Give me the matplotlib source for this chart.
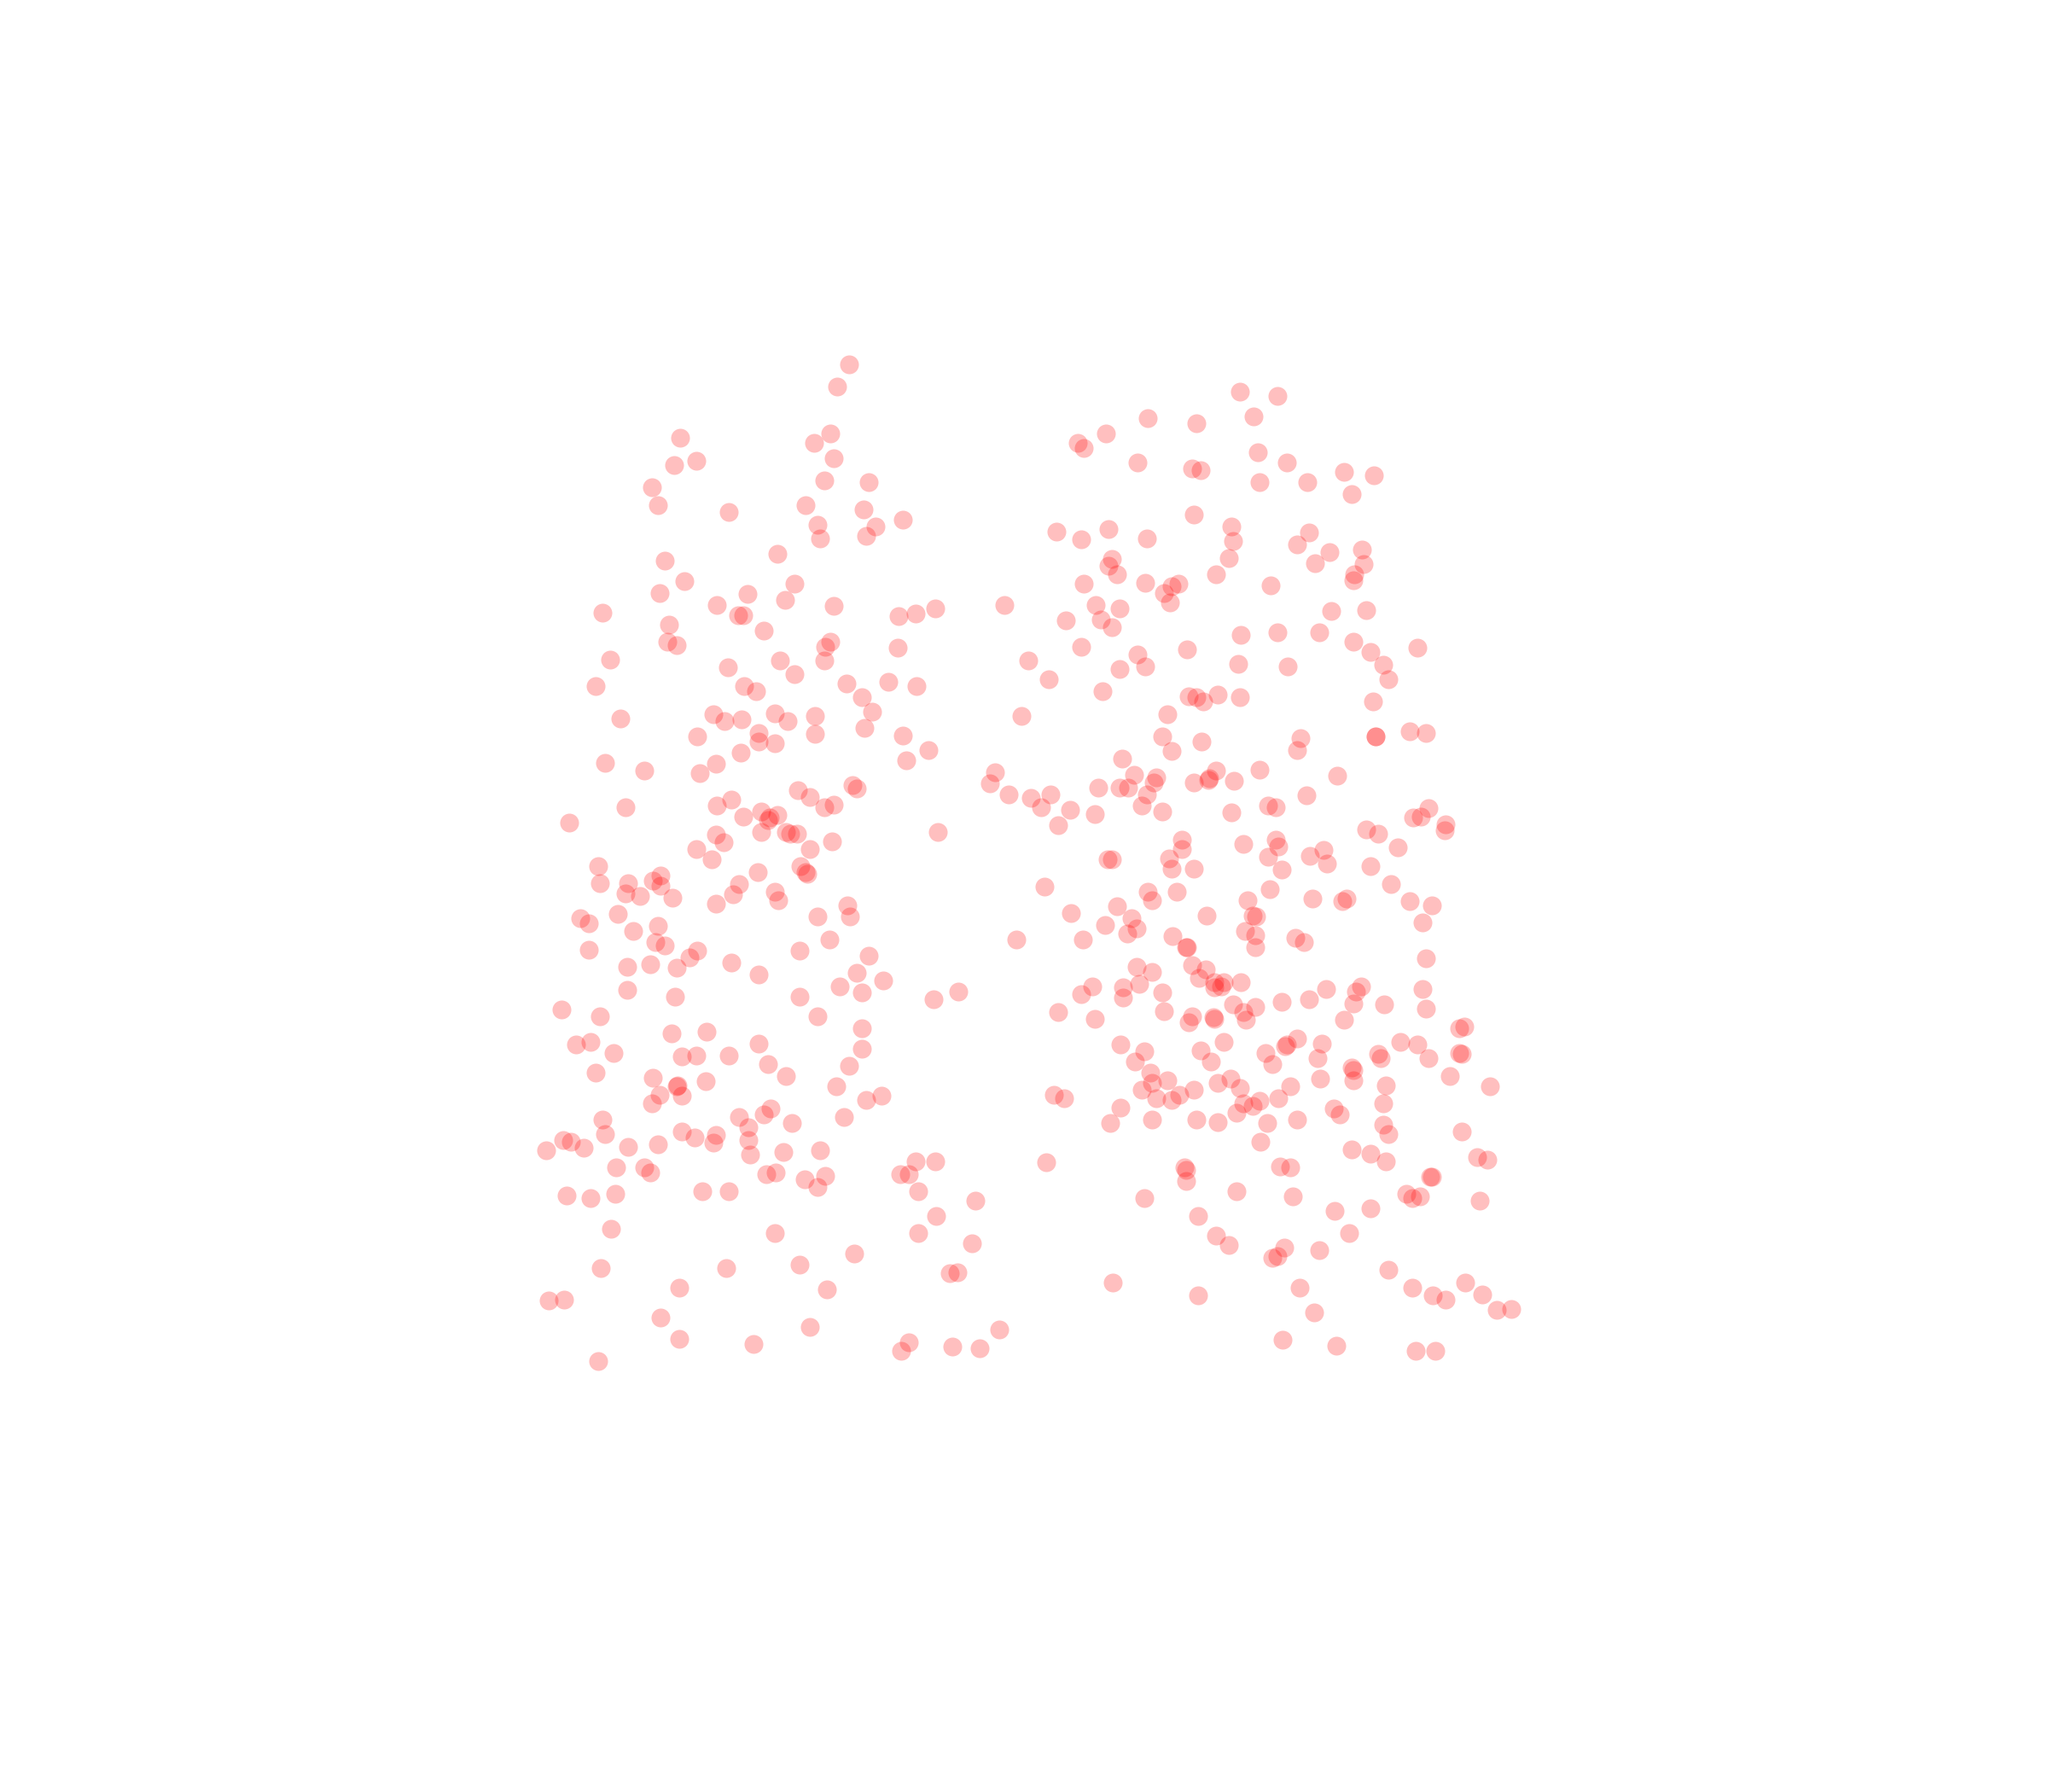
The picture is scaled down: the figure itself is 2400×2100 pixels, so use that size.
import matplotlib
matplotlib.use("Agg")
import matplotlib.pyplot as plt

# values (x, y)
points = [
(650,279),(641,296),(949,300),(978,303),(879,320),(960,319),(916,324),(636,332),(521,335),(847,332),(825,339),(830,343),(623,339),
(963,346),(638,351),(533,353),(516,356),(871,354),(985,354),(913,359),(919,360),(1029,361),(1052,364),(631,368),(665,369),(964,369),
(1001,369),(499,373),(1035,378),(504,387),(617,387),(661,390),(558,392),(914,394),(691,398),(626,402),(670,403),(943,403),(809,407),
(849,405),(663,410),(628,412),(828,413),(878,412),(944,414),(1002,408),(993,417),(1043,421),(1018,423),(595,424),(941,427),(851,428),
(509,429),(1007,431),(1044,432),(849,433),(855,440),(931,440),(1037,440),(1036,444),(830,447),(877,446),(524,445),(608,447),(973,448),
(902,447),(897,449),(891,454),(505,454),(572,455),(601,459),(896,461),(549,463),(638,464),(769,463),(839,463),(857,466),(716,466),
(701,470),(461,469),(565,471),(569,471),(688,472),(1019,468),(1046,467),(843,474),(816,475),(851,480),(512,478),(585,483),(950,486),
(978,484),(1010,484),(511,491),(518,494),(636,491),(632,495),(687,496),(828,495),(909,497),(1036,491),(1085,496),(1049,499),(871,501),
(467,505),(787,506),(597,506),(631,506),(557,511),(857,512),(877,510),(948,508),(986,510),(1059,509),(608,516),(803,520),(1063,520),
(456,525),(648,523),(680,522),(702,525),(570,525),(579,529),(844,529),(932,532),(949,534),(910,533),(916,534),(921,537),(660,534),
(1051,537),(668,545),(475,550),(546,547),(555,552),(568,551),(593,546),(603,552),(624,548),(782,548),(894,547),(662,557),(581,561),
(534,564),(624,562),(691,563),(1079,560),(1092,561),(1053,564),(1053,564),(996,565),(890,564),(920,568),(581,568),(593,569),(567,576),
(711,574),(993,574),(897,575),(859,581),(463,584),(548,585),(694,582),(493,590),(536,592),(762,591),(931,590),(964,589),(1024,594),
(868,593),(885,595),(883,599),(914,599),(925,597),(926,596),(945,598),(758,600),(653,601),(656,604),(611,605),(841,603),(857,603),
(864,603),(878,608),(772,608),(789,611),(804,608),(620,610),(1000,609),(560,612),(549,617),(479,618),(638,616),(631,618),(797,618),
(874,617),(971,617),(977,618),(1094,619),(583,621),(595,624),(589,626),(588,628),(569,625),(819,620),(838,623),(890,621),(943,622),
(1082,626),(1088,625),(436,630),(810,632),(1107,631),(1106,636),(1046,635),(718,637),(1055,638),(583,637),(602,637),(605,638),(610,638),
(548,639),(554,645),(637,644),(905,643),(977,643),(979,648),(952,646),(1070,649),(533,650),(620,650),(905,650),(1013,651),(1003,655),
(545,658),(848,658),(851,658),(895,657),(971,656),(1016,661),(458,663),(613,663),(618,669),(617,668),(897,665),(914,665),(981,666),
(1049,663),(506,670),(580,668),(459,676),(481,676),(500,674),(506,678),(566,677),(1065,677),(800,679),(593,683),(479,684),(490,686),
(515,687),(561,685),(879,683),(901,683),(972,681),(882,689),(596,689),(955,689),(1005,688),(1028,690),(1031,688),(1079,690),(1096,693),
(548,692),(649,693),(855,694),(820,699),(651,702),(924,701),(866,703),(959,701),(962,702),(444,703),(451,707),(473,700),(626,702),
(1089,706),(504,709),(846,708),(870,711),(485,713),(863,715),(953,713),(961,716),(635,719),(778,719),(829,719),(898,717),(992,718),
(998,721),(502,721),(509,724),(451,727),(534,728),(612,728),(908,725),(909,725),(961,725),(665,732),(528,733),(1092,734),(480,740),
(498,738),(518,741),(560,737),(870,740),(913,739),(923,742),(882,744),(656,745),(581,746),(918,749),(676,751),(930,752),(937,752),
(950,752),(643,755),(836,755),(860,756),(872,753),(930,756),(935,755),(1042,755),(1015,757),(1089,757),(480,758),(828,761),(1038,759),
(517,763),(612,763),(660,760),(734,759),(715,765),(860,764),(890,760),(981,767),(1002,765),(1036,768),(1060,769),(430,773),(626,778),
(459,778),(810,775),(838,780),(891,774),(944,769),(961,771),(952,775),(1092,772),(913,778),(910,783),(929,779),(930,780),(954,781),
(1029,781),(660,787),(541,790),(514,791),(1117,787),(1121,786),(937,798),(581,799),(452,798),(441,800),(858,800),(993,795),(985,800),
(984,801),(1012,799),(1072,798),(1085,800),(660,803),(876,805),(919,804),(969,806),(1055,807),(1057,810),(1117,806),(1119,807),(470,806),
(522,809),(533,808),(558,808),(588,815),(869,813),(927,813),(974,815),(1009,810),(1094,810),(650,816),(456,821),(1035,817),(1036,819),
(602,824),(500,825),(881,821),(1011,826),(1036,827),(1110,824),(540,828),(518,832),(519,831),(640,832),(882,829),(894,827),(942,826),
(932,829),(1061,831),(1141,832),(874,834),(914,834),(949,833),(988,832),(505,838),(522,839),(663,842),(675,839),(807,838),(815,841),
(885,841),(897,842),(903,838),(952,845),(964,843),(979,841),(499,845),(590,849),(585,853),(566,855),(646,855),(858,848),(959,847),
(947,852),(1021,849),(1026,853),(1059,845),(461,857),(606,860),(573,863),(850,860),(882,857),(916,857),(932,859),(970,860),(993,857),
(1059,861),(522,866),(532,871),(548,869),(463,868),(1063,868),(1119,866),(431,873),(437,874),(447,879),(418,881),(481,878),(504,876),
(546,875),(573,873),(574,884),(600,882),(628,881),(965,874),(1035,880),(1049,883),(1061,889),(1131,886),(1139,888),(472,894),(493,894),
(498,898),(587,899),(594,898),(616,903),(632,900),(626,909),(701,889),(716,889),(689,899),(696,899),(801,890),(907,894),(908,896),
(908,904),(980,893),(988,894),(1096,901),(1095,901),(538,912),(558,912),(434,915),(452,917),(471,914),(703,912),(747,919),(876,917),
(947,912),(990,916),(1077,914),(1081,917),(1087,916),(1133,919),(717,931),(917,931),(1022,927),(1049,925),(468,941),(593,944),(703,944),
(744,952),(931,946),(941,953),(983,955),(1033,944),(1010,957),(654,960),(974,963),(978,962),(460,971),(556,971),(612,968),(727,975),
(733,974),(1063,972),(1122,982),(852,982),(520,986),(633,987),(995,986),(1081,986),(1097,992),(1107,995),(1135,991),(917,992),(420,996),
(432,995),(1146,1003),(1157,1002),(1006,1005),(506,1009),(620,1016),(765,1018),(520,1025),(982,1026),(577,1029),(696,1028),(729,1031),
(750,1032),(690,1034),(1023,1030),(1084,1034),(1099,1034),(458,1042),
]
x_vals = [p[0] for p in points]
y_vals = [p[1] for p in points]

fig = plt.figure(figsize=(8, 7), dpi=300)
ax = fig.add_axes([0, 0, 1, 1])
ax.scatter(x_vals, y_vals, s=28, c="red", alpha=0.25, linewidths=0)
ax.set_xlim(0, 1568)
ax.set_ylim(1372, 0)
ax.axis("off")
fig.savefig("out.png", dpi=300)
